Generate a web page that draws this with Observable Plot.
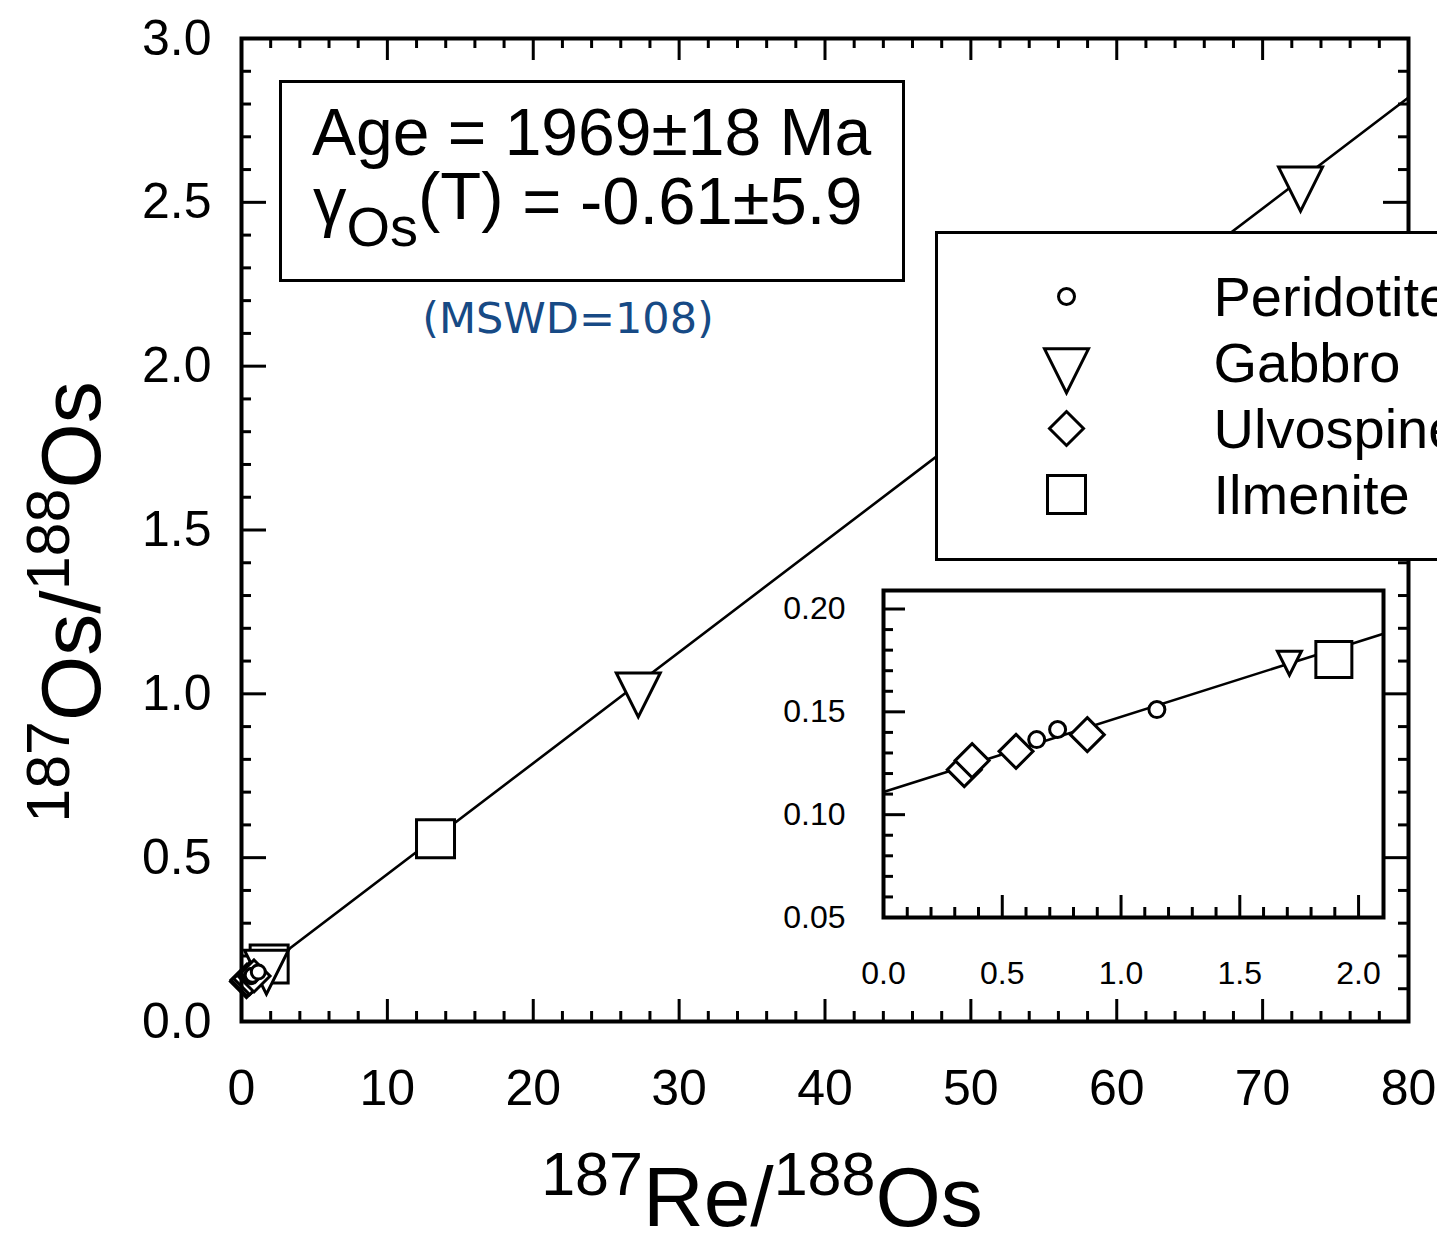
<!DOCTYPE html>
<html><head><meta charset="utf-8">
<script src="https://cdn.jsdelivr.net/npm/d3@7"></script>
<script src="https://cdn.jsdelivr.net/npm/@observablehq/plot@0.6"></script>
<style>
html,body{margin:0;padding:0;background:#fff;overflow:hidden}
#wrap{position:relative;width:1437px;height:1235px;overflow:hidden;font-family:"Liberation Sans",Arial,sans-serif;background:#fff}
.abs{position:absolute}
</style></head><body><div id="wrap"></div>
<script>
// ---------------- data ----------------
const rockTypes = ["Peridotite", "Gabbro", "Ulvospinel", "Ilmenite"];
const sampleType = ["Ulvospinel","Ulvospinel","Ulvospinel","Peridotite","Peridotite","Ulvospinel","Peridotite","Gabbro","Ilmenite","Ilmenite","Gabbro","Gabbro"];
const re187os188 = [0.34, 0.373, 0.558, 0.645, 0.733, 0.858, 1.151, 1.709, 1.896, 13.3, 27.2, 72.6];
const os187os188 = [0.1219, 0.1263, 0.1308, 0.1365, 0.1414, 0.1389, 0.1511, 0.1759, 0.1754, 0.558, 1.022, 2.566];
const isochronX = [0, 80];
const isochronY = [0.111, 2.82];
const insetLineX = [0, 2.105];
const insetLineY = [0.111, 0.188];
const xTicksMain = [0, 10, 20, 30, 40, 50, 60, 70, 80];
const yTicksMain = [0, 0.5, 1.0, 1.5, 2.0, 2.5, 3.0];
const xTicksInset = [0, 0.5, 1.0, 1.5, 2.0];
const yTicksInset = [0.05, 0.10, 0.15, 0.20];
const ageText = "Age = 1969±18 Ma";
const gammaValue = " = -0.61±5.9";
const mswdText = "(MSWD=108)";

// ---------------- helpers ----------------
const points = re187os188.map((x, i) => ({x, y: os187os188[i], type: sampleType[i]}));
const isochron = isochronX.map((x, i) => ({x, y: isochronY[i]}));
const insetLine = insetLineX.map((x, i) => ({x, y: insetLineY[i]}));
const rad = s => Math.sqrt(s / Math.PI);
const symbols = {
  Peridotite: {draw(c, s) { const r = rad(s); c.moveTo(r, 0); c.arc(0, 0, r, 0, 2 * Math.PI); c.closePath(); }},
  Gabbro: {draw(c, s) { const r = rad(s); c.moveTo(-r, -0.62 * r); c.lineTo(r, -0.62 * r); c.lineTo(0, 1.38 * r); c.closePath(); }},
  Ulvospinel: {draw(c, s) { const r = rad(s); c.moveTo(0, -r); c.lineTo(r, 0); c.lineTo(0, r); c.lineTo(-r, 0); c.closePath(); }},
  Ilmenite: {draw(c, s) { const r = rad(s); c.moveTo(-r, -r); c.lineTo(r, -r); c.lineTo(r, r); c.lineTo(-r, r); c.closePath(); }}
};
const rMain = {Peridotite: 7, Gabbro: 22, Ulvospinel: 16, Ilmenite: 19};
const rInset = {Peridotite: 8, Gabbro: 12, Ulvospinel: 17, Ilmenite: 18};
const rLegend = {Peridotite: 8, Gabbro: 22, Ulvospinel: 17, Ilmenite: 19};
const drawOrderMain = ["Ilmenite", "Gabbro", "Ulvospinel", "Peridotite"];
const drawOrderInset = ["Ulvospinel", "Peridotite", "Gabbro", "Ilmenite"];
const range = (a, b, s) => d3.range(Math.round((b - a) / s) + 1).map(i => +(a + i * s).toFixed(4));
const FONT = "'Liberation Sans', Arial, Helvetica, sans-serif";

const wrap = document.getElementById("wrap");

// ---------------- main plot ----------------
const M = {left: 241, right: 29, top: 38, bottom: 214};
const W = 1437, H = 1235;
const FW = W - M.left - M.right, FH = H - M.top - M.bottom;
const xMinor = range(0, 80, 2).filter(v => v % 10 !== 0);
const yMinor = range(0, 3, 0.1).filter(v => Math.abs(v * 2 - Math.round(v * 2)) > 1e-6);
const tickStyle = {stroke: "black", strokeWidth: 3};

const main = Plot.plot({
  width: W, height: H,
  marginLeft: M.left, marginRight: M.right, marginTop: M.top, marginBottom: M.bottom,
  x: {domain: [0, 80]},
  y: {domain: [0, 3]},
  style: {fontFamily: FONT, background: "transparent", color: "black", overflow: "visible"},
  marks: [
    Plot.ruleX(xMinor, {x: d => d, insetTop: FH - 10, ...tickStyle}),
    Plot.ruleX(xTicksMain, {x: d => d, insetTop: FH - 22, ...tickStyle}),
    Plot.ruleX(xMinor, {x: d => d, insetBottom: FH - 10, ...tickStyle}),
    Plot.ruleX(xTicksMain, {x: d => d, insetBottom: FH - 22, ...tickStyle}),
    Plot.ruleY(yMinor, {y: d => d, insetRight: FW - 10, ...tickStyle}),
    Plot.ruleY(yTicksMain, {y: d => d, insetRight: FW - 25, ...tickStyle}),
    Plot.ruleY(yMinor, {y: d => d, insetLeft: FW - 10, ...tickStyle}),
    Plot.ruleY(yTicksMain, {y: d => d, insetLeft: FW - 25, ...tickStyle}),
    Plot.axisX(xTicksMain, {anchor: "bottom", tickSize: 0, tickPadding: 48, fontSize: 50, tickFormat: d3.format("d"), label: null}),
    Plot.axisY(yTicksMain, {anchor: "left", tickSize: 0, tickPadding: 30, fontSize: 50, tickFormat: d3.format(".1f"), label: null}),
    Plot.line(isochron, {x: "x", y: "y", stroke: "black", strokeWidth: 2.6}),
    ...drawOrderMain.map(t => Plot.dot(points.filter(p => p.type === t), {
      x: "x", y: "y", symbol: symbols[t], r: rMain[t], fill: "white", stroke: "black", strokeWidth: 3
    })),
    Plot.frame({stroke: "black", strokeWidth: 4})
  ]
});
main.classList.add("abs");
main.style.left = "0px"; main.style.top = "0px";
wrap.appendChild(main);

// ---------------- annotations (text box, MSWD, axis titles) ----------------
const ann = d3.create("svg").attr("width", W).attr("height", H)
  .attr("class", "abs").style("left", "0px").style("top", "0px")
  .style("font-family", FONT);
ann.append("rect").attr("x", 280.5).attr("y", 81.5).attr("width", 623).attr("height", 199)
  .attr("fill", "white").attr("stroke", "black").attr("stroke-width", 3);
ann.append("text").attr("x", 312).attr("y", 155).attr("font-size", 66).text(ageText);
const g2 = ann.append("text").attr("x", 313).attr("y", 224).attr("font-size", 67);
g2.append("tspan").text("γ");
g2.append("tspan").attr("font-size", 56).attr("dy", 22).text("Os");
g2.append("tspan").attr("dy", -27).text("(T)");
g2.append("tspan").attr("dy", 5).text(gammaValue);
ann.append("text").attr("x", 568).attr("y", 333).attr("text-anchor", "middle")
  .attr("font-family", "'DejaVu Sans', Verdana, sans-serif").attr("font-size", 43)
  .attr("fill", "#174a85").text(mswdText);
const xt = ann.append("text").attr("x", 762).attr("y", 1226).attr("text-anchor", "middle").attr("font-size", 84);
xt.append("tspan").attr("font-size", 61).attr("dy", -31).text("187");
xt.append("tspan").attr("dy", 31).text("Re/");
xt.append("tspan").attr("font-size", 61).attr("dy", -31).text("188");
xt.append("tspan").attr("dy", 31).text("Os");
const yt = ann.append("text").attr("transform", "translate(100,602) rotate(-90)").attr("text-anchor", "middle").attr("font-size", 84);
yt.append("tspan").attr("font-size", 61).attr("dy", -31).text("187");
yt.append("tspan").attr("dy", 31).text("Os/");
yt.append("tspan").attr("font-size", 61).attr("dy", -31).text("188");
yt.append("tspan").attr("dy", 31).text("Os");
wrap.appendChild(ann.node());

// ---------------- legend ----------------
const legDiv = document.createElement("div");
legDiv.className = "abs";
Object.assign(legDiv.style, {left: "935px", top: "231px", width: "560px", height: "324px", border: "3px solid black", background: "white"});
const legend = Plot.plot({
  width: 560, height: 324, marginLeft: 0, marginRight: 0, marginTop: 61, marginBottom: 64,
  x: {domain: [0, 1], axis: null},
  y: {type: "point", domain: rockTypes, padding: 0, axis: null},
  style: {fontFamily: FONT, background: "white", color: "black"},
  marks: [
    ...rockTypes.map(t => Plot.dot([t], {y: d => d, frameAnchor: "left", dx: 128, symbol: symbols[t], r: rLegend[t], fill: "white", stroke: "black", strokeWidth: 3})),
    Plot.text(rockTypes, {y: d => d, frameAnchor: "left", dx: 275, dy: 2, text: d => d, textAnchor: "start", fontSize: 56, fill: "black"})
  ]
});
legDiv.appendChild(legend);
wrap.appendChild(legDiv);

// ---------------- inset ----------------
const IM = {left: 120, right: 10, top: 10, bottom: 80};
const IFW = 500, IFH = 327;
const ixMinor = range(0, 2.0, 0.1).filter(v => Math.abs(v * 2 - Math.round(v * 2)) > 1e-6);
const iyMinor = range(0.05, 0.20, 0.01).filter(v => Math.abs(v * 20 - Math.round(v * 20)) > 1e-6);
const inset = Plot.plot({
  width: IM.left + IFW + IM.right, height: IM.top + IFH + IM.bottom,
  marginLeft: IM.left, marginRight: IM.right, marginTop: IM.top, marginBottom: IM.bottom,
  x: {domain: [0, 2.105]},
  y: {domain: [0.05, 0.209]},
  style: {fontFamily: FONT, background: "transparent", color: "black", overflow: "visible"},
  marks: [
    Plot.ruleX(ixMinor, {x: d => d, insetTop: IFH - 10, ...tickStyle}),
    Plot.ruleX(xTicksInset, {x: d => d, insetTop: IFH - 22, ...tickStyle}),
    Plot.ruleY(iyMinor, {y: d => d, insetRight: IFW - 10, ...tickStyle}),
    Plot.ruleY(yTicksInset, {y: d => d, insetRight: IFW - 22, ...tickStyle}),
    Plot.axisX(xTicksInset, {anchor: "bottom", tickSize: 0, tickPadding: 44, fontSize: 32, tickFormat: d3.format(".1f"), label: null}),
    Plot.axisY(yTicksInset, {anchor: "left", tickSize: 0, tickPadding: 38, fontSize: 32, tickFormat: d3.format(".2f"), label: null}),
    Plot.line(insetLine, {x: "x", y: "y", stroke: "black", strokeWidth: 2.6}),
    ...drawOrderInset.map(t => Plot.dot(points.filter(p => p.type === t && p.x <= 2.1), {
      x: "x", y: "y", symbol: symbols[t], r: rInset[t], fill: "white", stroke: "black", strokeWidth: 3
    })),
    Plot.frame({stroke: "black", strokeWidth: 4})
  ]
});
inset.classList.add("abs");
inset.style.left = (883 - IM.left) + "px";
inset.style.top = (590 - IM.top) + "px";
wrap.appendChild(inset);
</script></body></html>
